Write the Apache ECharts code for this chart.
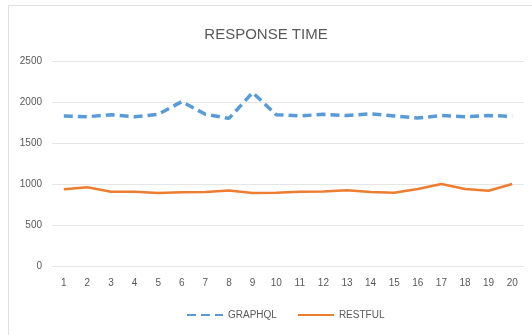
<!DOCTYPE html>
<html>
<head>
<meta charset="utf-8">
<script src="https://cdn.jsdelivr.net/npm/echarts@6/dist/echarts.min.js"></script>
<style>
  html, body { margin: 0; padding: 0; background: #fff; }
  #frame { position: absolute; left: 8px; top: 5px; width: 530px; height: 340px; border: 1px solid #e0e0e0; box-sizing: border-box; }
  #chart { width: 532px; height: 335px; position: absolute; left: 0; top: 0; }
</style>
</head>
<body>
<div id="frame"></div>
<div id="chart"></div>
<script>
const categories = ['1','2','3','4','5','6','7','8','9','10','11','12','13','14','15','16','17','18','19','20'];
const graphql = [1830, 1820, 1845, 1820, 1850, 2005, 1850, 1800, 2115, 1845, 1830, 1850, 1835, 1855, 1830, 1805, 1835, 1820, 1835, 1825];
const restful = [935, 960, 905, 905, 890, 900, 902, 922, 890, 892, 905, 910, 925, 902, 892, 938, 1000, 938, 918, 1000];

const FONT = 'Liberation Sans';
const chart = echarts.init(document.getElementById('chart'), null, { renderer: 'canvas' });
chart.setOption({
  animation: false,
  title: {
    text: 'RESPONSE TIME',
    left: 'center',
    top: 22,
    textStyle: { color: '#595959', fontSize: 15, fontWeight: 'normal', fontFamily: FONT }
  },
  grid: { left: 52, right: 8, top: 61, bottom: 69 },
  legend: {
    bottom: 10,
    left: 181,
    itemWidth: 36,
    itemHeight: 4,
    itemGap: 20,
    itemStyle: { opacity: 0 },
    textStyle: { color: '#595959', fontSize: 10, fontFamily: FONT },
    data: ['GRAPHQL', 'RESTFUL']
  },
  xAxis: {
    type: 'category',
    data: categories,
    boundaryGap: true,
    axisLine: { show: false },
    axisTick: { show: false },
    axisLabel: { color: '#595959', fontSize: 10, fontFamily: FONT, margin: 12 }
  },
  yAxis: {
    type: 'value',
    min: 0,
    max: 2500,
    interval: 500,
    axisLine: { show: false },
    axisTick: { show: false },
    axisLabel: { color: '#595959', fontSize: 10, fontFamily: FONT, margin: 10, formatter: v => String(v) },
    splitLine: { lineStyle: { color: '#e6e6e6', width: 1 } }
  },
  series: [
    {
      name: 'GRAPHQL',
      type: 'line',
      data: graphql,
      symbol: 'none',
      itemStyle: { color: '#5b9bd5' },
      lineStyle: { color: '#5b9bd5', width: 3.5, type: [9, 5] }
    },
    {
      name: 'RESTFUL',
      type: 'line',
      data: restful,
      symbol: 'none',
      itemStyle: { color: '#ed7d31' },
      lineStyle: { color: '#ed7d31', width: 2.5 }
    }
  ]
});
</script>
</body>
</html>
